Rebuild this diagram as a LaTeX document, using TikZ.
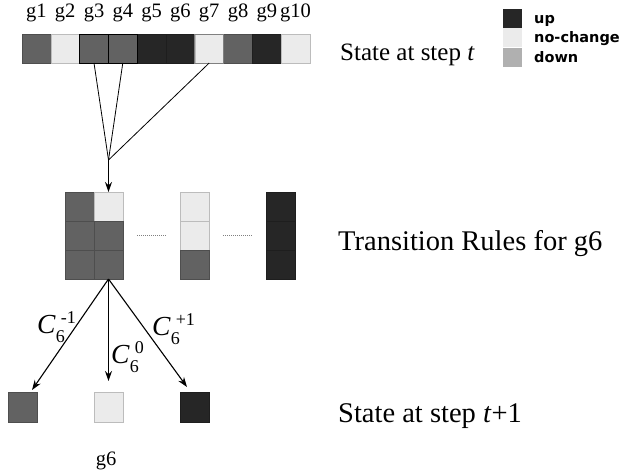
\documentclass[tikz,border=0pt]{standalone}
\usepackage{fontspec}
\setmainfont{Liberation Serif}
\newfontfamily\legfont{DejaVu Sans}
\usetikzlibrary{arrows.meta}
\definecolor{cup}{HTML}{262626}
\definecolor{cnc}{HTML}{EBEBEB}
\definecolor{cmid}{HTML}{626262}
\definecolor{cdown}{HTML}{B0B0B0}
\newcommand{\Clab}[1]{\textit{C}\rlap{\raisebox{-9pt}{\fontsize{18}{18}\selectfont 6}}\kern5pt\raisebox{10pt}{\fontsize{18}{18}\selectfont #1}}
\tikzset{
  cell/.style={fill=#1, draw=#1!80!black, line width=0.5pt, minimum width=28.8pt, minimum height=29pt, inner sep=0pt, outer sep=0pt},
  legsq/.style={fill=#1, draw=none, minimum width=19pt, minimum height=19pt, inner sep=0pt},
  glab/.style={font=\fontsize{20.5}{20.5}\selectfont, anchor=base, inner sep=0pt},
  bigtxt/.style={font=\fontsize{28.5}{28.5}\selectfont, anchor=base west, inner sep=0pt},
  legtxt/.style={font=\legfont\bfseries\fontsize{14.5}{14.5}\selectfont, anchor=base west, inner sep=0pt},
  clab/.style={font=\fontsize{27.5}{27.5}\selectfont, anchor=base west, inner sep=0pt},
  thinln/.style={line width=0.8pt, black},
  arr/.style={line width=1.1pt, black, -{Stealth[length=10pt,width=7pt]}},
  dots/.style={line width=1pt, gray, dash pattern=on 1pt off 1pt}
}
\begin{document}
\begin{tikzpicture}[x=1pt, y=-1pt]
\useasboundingbox (0,0) rectangle (623,474);
% top state row
\foreach \i/\c in {1/cmid,2/cnc,3/cmid,4/cmid,5/cup,6/cup,7/cnc,8/cmid,9/cup,10/cnc}{
  \node[cell=\c] (g\i) at ({22+28.8*(\i-0.5)},48.5) {};
  \node[glab] (l\i) at ({22+28.8*(\i-0.5)},17.5) {g\i};
}
\draw[black, line width=0.8pt] (g3.north west) rectangle (g4.south east);
\draw[black, line width=0.8pt] (g3.north east) -- (g3.south east);
\draw[gray, line width=0.8pt] (g7.north west) rectangle (g7.south east);
\node[font=\fontsize{25}{25}\selectfont, anchor=base west, inner sep=0pt] (st) at (340,60) {State at step \textit{t}};
% legend
\node[legsq=cup] (lu) at (512.5,18.5) {};
\node[legsq=cnc] (ln) at (512.5,37.5) {};
\node[legsq=cdown] (ld) at (512.5,57) {};
\node[legtxt] (tu) at (534,23) {up};
\node[legtxt] (tn) at (534,42) {no-change};
\node[legtxt] (td) at (534,62) {down};
% converging lines
\coordinate (cv) at (108.5,160);
\draw[thinln] (g3.south) -- (cv);
\draw[thinln] (g4.south) -- (cv);
\draw[thinln] (g7.south) -- (cv);
% rule table
\foreach \r/\y in {1/206.5,2/235.5,3/264.5}{
  \node[cell=cmid] (a\r1) at (79.5,\y) {};
}
\node[cell=cnc] (a12) at (108.5,206.5) {};
\node[cell=cmid] (a22) at (108.5,235.5) {};
\node[cell=cmid] (a32) at (108.5,264.5) {};
\node[cell=cnc] (b1) at (194.5,206.5) {};
\node[cell=cnc] (b2) at (194.5,235.5) {};
\node[cell=cmid] (b3) at (194.5,264.5) {};
\node[cell=cup] (c1) at (280.5,206.5) {};
\node[cell=cup] (c2) at (280.5,235.5) {};
\node[cell=cup] (c3) at (280.5,264.5) {};
\draw[dots] (137,235) -- (166,235);
\draw[dots] (223,235) -- (252,235);
\draw[arr] (cv) -- (a12.north);
\node[bigtxt] (tr) at (338,250) {Transition Rules for g6};
% bottom
\node[cell=cmid, minimum height=30pt] (s1) at (22.5,407) {};
\node[cell=cnc, minimum height=30pt] (s2) at (108.5,407) {};
\node[cell=cup, minimum height=30pt] (s3) at (195,407) {};
\coordinate (e1) at (32,390);
\coordinate (e2) at (108.5,381);
\coordinate (e3) at (187,387);
\draw[arr] (a32.south) -- (e1);
\draw[arr] (a32.south) -- (e2);
\draw[arr] (a32.south) -- (e3);
\node[clab] (cm) at (37,333) {\Clab{-1}};
\node[clab] (c0) at (111,363) {\Clab{0}};
\node[clab] (cp) at (152,335) {\Clab{+1}};
\node[glab] (g6b) at (106,465) {g6};
\node[bigtxt] (st2) at (338,422) {State at step \textit{t}+1};
\end{tikzpicture}
\end{document}
